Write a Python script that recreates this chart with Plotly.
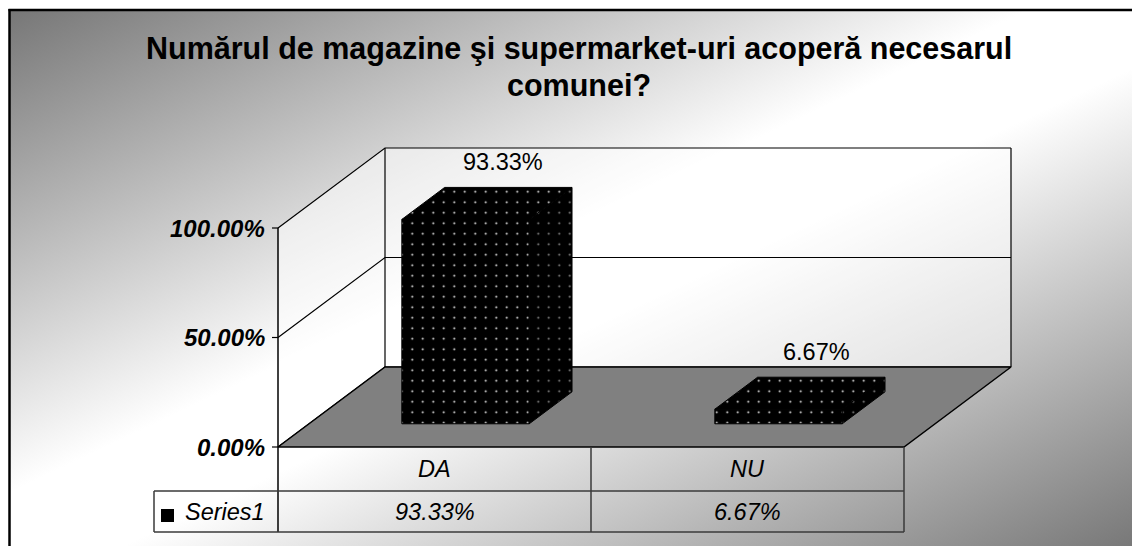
import base64
import plotly.graph_objects as go

# ---------------- data ----------------
categories = ["DA", "NU"]
values = [93.33, 6.67]
value_labels = ["93.33%", "6.67%"]
series_name = "Series1"
y_ticks = [0, 50, 100]
y_tick_labels = ["0.00%", "50.00%", "100.00%"]
title_lines = ["Numărul de magazine şi supermarket-uri acoperă necesarul", "comunei?"]

# ---------------- geometry (page pixels) ----------------
PAGE_W, PAGE_H = 1140, 546
OFF = 8                      # body margin of the html page
W, H = PAGE_W - OFF, PAGE_H - OFF
X0_PX, Y0_PX = 278.0, 447.0  # front-left corner of the floor (page px)
PX_PER_CAT = 313.0
PX_PER_PCT = 2.19
DEPTH_PX = (107.0, -80.0)
DX = DEPTH_PX[0] / PX_PER_CAT
DY = -DEPTH_PX[1] / PX_PER_PCT
BAR_W = 0.407
BAR_Z = (0.29, 0.69)
FONT = "Liberation Sans, Arial, sans-serif"


def px_x(p):
    return (p - X0_PX) / PX_PER_CAT


def px_y(p):
    return (Y0_PX - p) / PX_PER_PCT


def pap_x(p):
    return (p - OFF) / W


def pap_y(p):
    return 1 - (p - OFF) / H


def proj(x, z, v):
    return (x + z * DX, v + z * DY)


fig = go.Figure()


def poly(pts, fill, line_color="black", lw=1.0, pattern=None):
    xs = [p[0] for p in pts] + [pts[0][0]]
    ys = [p[1] for p in pts] + [pts[0][1]]
    fig.add_trace(go.Scatter(
        x=xs, y=ys, mode="lines", fill="toself", fillcolor=fill,
        line=dict(color=line_color, width=lw), fillpattern=pattern,
        hoverinfo="skip", showlegend=False))


def line(pts, color="black", lw=1.0):
    fig.add_trace(go.Scatter(
        x=[p[0] for p in pts], y=[p[1] for p in pts], mode="lines",
        line=dict(color=color, width=lw), hoverinfo="skip", showlegend=False))


n = len(categories)
vmax = y_ticks[-1]

# walls
wall_fill = "rgba(255,255,255,0.55)"
poly([proj(0, 0, 0), proj(0, 1, 0), proj(0, 1, vmax), proj(0, 0, vmax)], wall_fill, lw=0)
poly([proj(0, 1, 0), proj(n, 1, 0), proj(n, 1, vmax), proj(0, 1, vmax)], wall_fill, lw=0)

# gridlines on side + back wall
for t in y_ticks:
    line([proj(0, 0, t), proj(0, 1, t), proj(n, 1, t)], lw=1.2)
line([proj(0, 1, 0), proj(0, 1, vmax)], lw=1.2)
line([proj(n, 1, 0), proj(n, 1, vmax)], lw=1.2)

# floor
poly([proj(0, 0, 0), proj(n, 0, 0), proj(n, 1, 0), proj(0, 1, 0)], "#808080", lw=1.5)

# table geometry
ROW1_BOT = px_y(491)
ROW2_BOT = px_y(532)
LEG_LEFT = px_x(154)
tcol = "#3a3a3a"

# front value axis + ticks
line([(0, vmax), (0, ROW2_BOT)], lw=1.5)
for t in y_ticks:
    line([(px_x(272), t), (0, t)], lw=1.2)

# bars
front_pat = dict(shape=".", fgcolor="#e6e6e6", bgcolor="black", size=10.5, solidity=0.03, fillmode="replace")
side_pat = dict(shape=".", fgcolor="#8a8a8a", bgcolor="black", size=10.5, solidity=0.03, fillmode="replace")
for i, v in enumerate(values):
    c = i + 0.5
    x0, x1 = c - BAR_W / 2, c + BAR_W / 2
    z0, z1 = BAR_Z
    poly([proj(x1, z0, 0), proj(x1, z1, 0), proj(x1, z1, v), proj(x1, z0, v)], "black", pattern=side_pat)
    poly([proj(x0, z0, v), proj(x1, z0, v), proj(x1, z1, v), proj(x0, z1, v)], "black", pattern=front_pat)
    poly([proj(x0, z0, 0), proj(x1, z0, 0), proj(x1, z0, v), proj(x0, z0, v)], "black", pattern=front_pat)
    lx, ly = proj(c, z1, v)
    fig.add_annotation(x=lx, y=ly, text=value_labels[i], showarrow=False,
                       xanchor="center", yanchor="bottom", xshift=-5, yshift=10,
                       font=dict(family=FONT, size=23.5, color="black"))

# tick labels
for t, lab in zip(y_ticks, y_tick_labels):
    fig.add_annotation(x=px_x(267), y=t, text="<b><i>" + lab + "</i></b>", showarrow=False,
                       xanchor="right", yanchor="middle",
                       font=dict(family=FONT, size=24, color="black"))

# data table lines
line([(LEG_LEFT, ROW1_BOT), (n, ROW1_BOT)], color=tcol, lw=1.5)
line([(LEG_LEFT, ROW2_BOT), (n, ROW2_BOT)], color=tcol, lw=1.5)
line([(LEG_LEFT, ROW1_BOT), (LEG_LEFT, ROW2_BOT)], color=tcol, lw=1.5)
for k in range(1, n + 1):
    line([(k, 0), (k, ROW2_BOT)], color=tcol, lw=1.5)

for i, cat in enumerate(categories):
    fig.add_annotation(x=i + 0.5, y=ROW1_BOT / 2, text="<i>" + cat + "</i>", showarrow=False,
                       font=dict(family=FONT, size=23.5, color="black"))
    fig.add_annotation(x=i + 0.5, y=(ROW1_BOT + ROW2_BOT) / 2, text="<i>" + value_labels[i] + "</i>",
                       showarrow=False, font=dict(family=FONT, size=23.5, color="black"))

# legend key + series name
fig.add_trace(go.Scatter(x=[px_x(167.5)], y=[px_y(515.5)], mode="markers",
                         marker=dict(symbol="square", size=13, color="black", line=dict(width=0)),
                         hoverinfo="skip", showlegend=False))
fig.add_annotation(x=px_x(183), y=(ROW1_BOT + ROW2_BOT) / 2, text="<i>" + series_name + "</i>",
                   showarrow=False, xanchor="left",
                   font=dict(family=FONT, size=23.5, color="black"))

# title
for txt, ypx in zip(title_lines, [48, 85]):
    fig.add_annotation(xref="paper", yref="paper", x=pap_x(579), y=pap_y(ypx),
                       text="<b>" + txt + "</b>", showarrow=False,
                       xanchor="center", yanchor="middle",
                       font=dict(family=FONT, size=30.5, color="black"))

# background gradient
bx0, by0 = 10, 11
bw, bh = PAGE_W - bx0, PAGE_H - by0
svg = (f'<svg xmlns="http://www.w3.org/2000/svg" width="{bw}" height="{bh}" '
       f'viewBox="0 0 {bw} {bh}" preserveAspectRatio="none"><defs>'
       '<linearGradient id="g" x1="0" y1="0" x2="1" y2="1">'
       '<stop offset="0" stop-color="#777777"/><stop offset="0.45" stop-color="#ffffff"/>'
       '<stop offset="0.55" stop-color="#ffffff"/>'
       '<stop offset="1" stop-color="#777777"/></linearGradient></defs>'
       f'<rect width="{bw}" height="{bh}" fill="url(#g)"/></svg>')
src = "data:image/svg+xml;base64," + base64.b64encode(svg.encode()).decode()
fig.add_layout_image(source=src, xref="paper", yref="paper", x=pap_x(bx0), y=pap_y(by0),
                     sizex=bw / W, sizey=bh / H, sizing="stretch", layer="below",
                     xanchor="left", yanchor="top")

# outer frame
fig.add_shape(type="line", xref="paper", yref="paper", x0=pap_x(9.5), x1=pap_x(9.5),
              y0=-0.05, y1=pap_y(9), line=dict(color="black", width=2.5))
fig.add_shape(type="line", xref="paper", yref="paper", x0=pap_x(8.5), x1=1.05,
              y0=pap_y(10), y1=pap_y(10), line=dict(color="black", width=2.5))

fig.update_layout(
    width=W, height=H,
    margin=dict(l=0, r=0, t=0, b=0, pad=0),
    paper_bgcolor="white", plot_bgcolor="rgba(0,0,0,0)",
    xaxis=dict(visible=False, range=[px_x(OFF), px_x(PAGE_W)], fixedrange=True),
    yaxis=dict(visible=False, range=[px_y(PAGE_H), px_y(OFF)], fixedrange=True),
    showlegend=False,
)

fig.write_html("out.html")
